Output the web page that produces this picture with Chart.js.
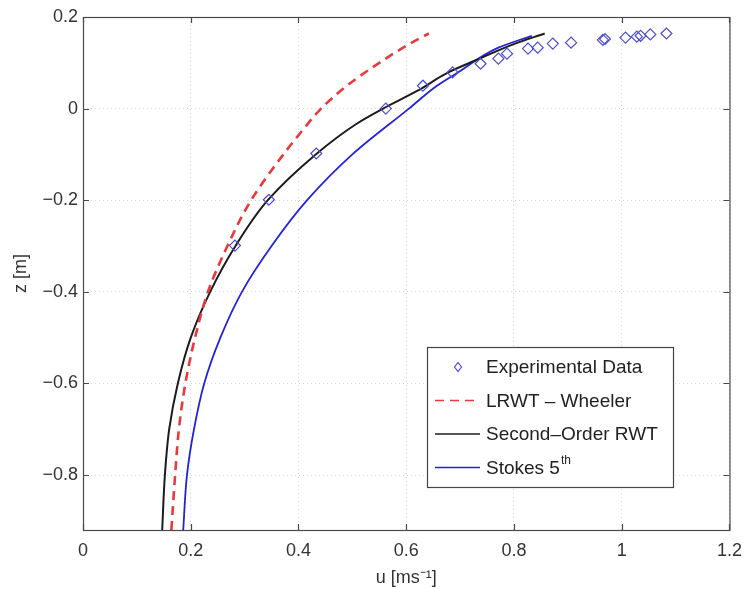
<!DOCTYPE html>
<html lang="en">
<head>
  <meta charset="UTF-8" />
  <script src="https://cdn.jsdelivr.net/npm/chart.js@4.4.1/dist/chart.umd.min.js"></script>
  <title>Velocity profile</title>
  <style>
    html, body { margin: 0; padding: 0; background: #fff; }
  </style>
</head>
<body>
<canvas id="profile" width="752" height="589"></canvas>
<script>
  // axis ticks
  const xTicks = [0, 0.2, 0.4, 0.6, 0.8, 1, 1.2];
  const yTicks = [0.2, 0, -0.2, -0.4, -0.6, -0.8];

  // experimental data (u, z)
  const expU = [0.282, 0.345, 0.433, 0.562, 0.631, 0.686, 0.738, 0.771, 0.787, 0.826, 0.844, 0.872, 0.906, 0.965, 0.969, 1.007, 1.028, 1.035, 1.053, 1.083];
  const expZ = [-0.299, -0.199, -0.098, 0.0, 0.05, 0.079, 0.098, 0.109, 0.12, 0.131, 0.133, 0.142, 0.144, 0.15, 0.152, 0.155, 0.157, 0.159, 0.162, 0.164];

  // LRWT - Wheeler
  const lrwtZ = [-0.92, -0.8, -0.7, -0.6, -0.5, -0.4, -0.3, -0.2, -0.1, -0.048, 0, 0.05, 0.1, 0.142, 0.164];
  const lrwtU = [0.164, 0.171, 0.178, 0.19, 0.208, 0.232, 0.268, 0.312, 0.372, 0.407, 0.442, 0.49, 0.55, 0.607, 0.642];

  // Second-order RWT
  const rwt2Z = [-0.92, -0.8, -0.7, -0.6, -0.5, -0.4, -0.3, -0.2, -0.1, -0.033, 0, 0.039, 0.079, 0.105, 0.142, 0.164];
  const rwt2U = [0.147, 0.152, 0.16, 0.176, 0.2, 0.236, 0.283, 0.343, 0.432, 0.508, 0.557, 0.621, 0.678, 0.728, 0.802, 0.857];

  // Stokes 5th
  const stokesZ = [-0.92, -0.8, -0.7, -0.6, -0.5, -0.4, -0.3, -0.2, -0.1, 0, 0.05, 0.076, 0.133, 0.159];
  const stokesU = [0.186, 0.193, 0.206, 0.225, 0.255, 0.295, 0.35, 0.416, 0.5, 0.605, 0.657, 0.692, 0.771, 0.833];

  const pairs = (us, zs) => us.map((u, i) => ({ x: u, y: zs[i] }));
  const fmt = v => {
    const r = Math.round(v * 10) / 10;
    return r < 0 ? '\u2212' + Math.abs(r) : String(r);
  };

  const FONT = "'Liberation Sans', Arial, Helvetica, sans-serif";

  const frame = {
    id: 'frame',
    afterDatasetsDraw(chart) {
      const { ctx, chartArea: a, scales: { x, y } } = chart;
      ctx.save();
      ctx.strokeStyle = '#4a4a4a';
      ctx.lineWidth = 1.2;
      ctx.strokeRect(a.left + 0.5, a.top + 0.5, a.right - a.left, a.bottom - a.top);
      ctx.beginPath();
      x.ticks.forEach(t => {
        const px = Math.round(x.getPixelForValue(t.value)) + 0.5;
        ctx.moveTo(px, a.bottom); ctx.lineTo(px, a.bottom - 6);
        ctx.moveTo(px, a.top); ctx.lineTo(px, a.top + 6);
      });
      y.ticks.forEach(t => {
        const py = Math.round(y.getPixelForValue(t.value)) + 0.5;
        ctx.moveTo(a.left, py); ctx.lineTo(a.left + 6, py);
        ctx.moveTo(a.right, py); ctx.lineTo(a.right - 6, py);
      });
      ctx.stroke();
      ctx.restore();
    }
  };

  // legend box in lower right, MATLAB style
  const boxLegend = {
    id: 'boxLegend',
    afterDraw(chart) {
      const { ctx } = chart;
      const bx = 427, by = 347, bw = 246, bh = 140;
      ctx.save();
      ctx.fillStyle = '#fff';
      ctx.fillRect(bx, by, bw, bh);
      ctx.strokeStyle = '#444';
      ctx.lineWidth = 1.2;
      ctx.strokeRect(bx + 0.5, by + 0.5, bw, bh);
      chart.data.datasets.forEach((ds, i) => {
        const cy = by + 20 + i * 33.5;
        ctx.strokeStyle = ds.borderColor;
        if (ds.showLine) {
          ctx.lineWidth = 1.6;
          ctx.setLineDash(ds.borderDash || []);
          ctx.beginPath();
          ctx.moveTo(bx + 8, cy);
          ctx.lineTo(bx + 53, cy);
          ctx.stroke();
          ctx.setLineDash([]);
        } else {
          ctx.lineWidth = 1.2;
          ctx.beginPath();
          ctx.moveTo(bx + 31, cy - 4.5);
          ctx.lineTo(bx + 34.5, cy);
          ctx.lineTo(bx + 31, cy + 4.5);
          ctx.lineTo(bx + 27.5, cy);
          ctx.closePath();
          ctx.stroke();
        }
        ctx.fillStyle = '#222';
        ctx.font = '19px ' + FONT;
        ctx.textBaseline = 'middle';
        ctx.textAlign = 'left';
        ctx.fillText(ds.label, bx + 59, cy + 1);
        if (ds.labelSup) {
          const w = ctx.measureText(ds.label).width;
          ctx.font = '12px ' + FONT;
          ctx.fillText(ds.labelSup, bx + 60 + w, cy - 7);
        }
      });
      ctx.restore();
    }
  };

  const curve = {
    showLine: true,
    indexAxis: 'y',
    cubicInterpolationMode: 'monotone',
    pointRadius: 0
  };

  new Chart(document.getElementById('profile'), {
    type: 'scatter',
    data: {
      datasets: [
        {
          label: 'Experimental Data',
          data: pairs(expU, expZ),
          showLine: false,
          pointStyle: 'rectRot',
          pointRadius: 5.5,
          pointBorderWidth: 1.2,
          borderColor: '#4d4dd2',
          backgroundColor: 'rgba(0,0,0,0)'
        },
        Object.assign({
          label: 'LRWT \u2013 Wheeler',
          data: pairs(lrwtU, lrwtZ),
          borderColor: '#e63a3c',
          borderWidth: 2.6,
          borderDash: [9, 6]
        }, curve),
        Object.assign({
          label: 'Second\u2013Order RWT',
          data: pairs(rwt2U, rwt2Z),
          borderColor: '#1c1c1c',
          borderWidth: 2
        }, curve),
        Object.assign({
          label: 'Stokes 5',
          labelSup: 'th',
          data: pairs(stokesU, stokesZ),
          borderColor: '#2424d6',
          borderWidth: 1.8
        }, curve)
      ]
    },
    options: {
      responsive: false,
      animation: false,
      layout: { padding: { top: 17, right: 17, left: 0, bottom: 0 } },
      plugins: {
        legend: { display: false },
        tooltip: { enabled: false }
      },
      scales: {
        x: {
          type: 'linear',
          min: 0,
          max: 1.2,
          afterBuildTicks: axis => { axis.ticks = xTicks.map(v => ({ value: v })); },
          afterFit: axis => { axis.height = 59; },
          grid: { color: '#d4d4d4', drawTicks: false },
          border: { display: false, dash: [1, 3] },
          ticks: { padding: 10, color: '#333', font: { family: FONT, size: 18 }, callback: fmt },
          title: { display: true, text: 'u [ms\u207B\u00B9]', color: '#333', padding: { top: 0, bottom: 0 }, font: { family: FONT, size: 18 } }
        },
        y: {
          type: 'linear',
          min: -0.92,
          max: 0.2,
          afterBuildTicks: axis => { axis.ticks = yTicks.map(v => ({ value: v })); },
          afterFit: axis => { axis.width = 83; },
          grid: { color: '#d4d4d4', drawTicks: false },
          border: { display: false, dash: [1, 3] },
          ticks: { padding: 5, color: '#333', font: { family: FONT, size: 18 }, callback: fmt },
          title: { display: true, text: 'z [m]', color: '#333', padding: { top: 10, bottom: 0 }, font: { family: FONT, size: 18 } }
        }
      }
    },
    plugins: [frame, boxLegend]
  });
</script>
</body>
</html>
